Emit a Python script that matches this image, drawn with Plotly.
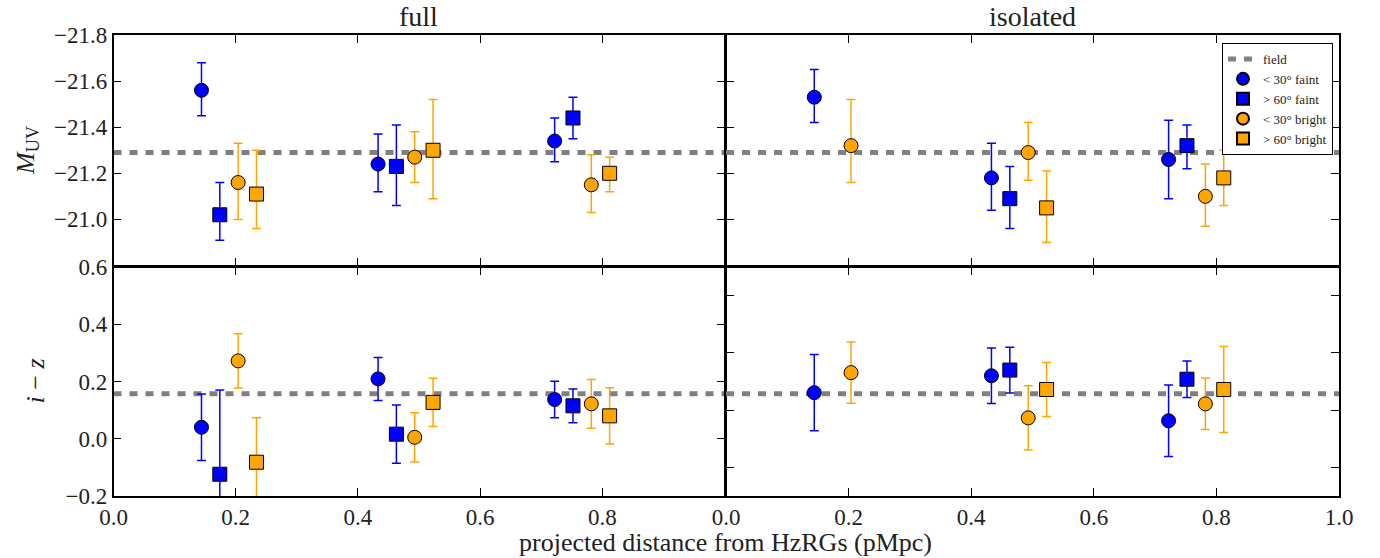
import plotly.graph_objects as go

# ---------------- data ----------------
field_muv = -21.29
field_iz = 0.157

series_names = ["< 30° faint", "> 60° faint", "< 30° bright", "> 60° bright"]
series_colors = ["#0000ff", "#0000ff", "#ffa500", "#ffa500"]
series_symbols = ["circle", "square", "circle", "square"]

# full sample, M_UV
full_x = [[0.144, 0.433, 0.722], [0.174, 0.463, 0.752], [0.204, 0.493, 0.782], [0.234, 0.523, 0.812]]
full_muv = [[-21.56, -21.24, -21.34], [-21.02, -21.23, -21.44], [-21.16, -21.27, -21.15], [-21.11, -21.30, -21.20]]
full_muv_err_bright = [[0.12, 0.13, 0.10], [0.14, 0.18, 0.09], [0.17, 0.11, 0.13], [0.19, 0.22, 0.07]]
full_muv_err_faint = [[0.11, 0.12, 0.09], [0.11, 0.17, 0.09], [0.16, 0.11, 0.12], [0.15, 0.21, 0.08]]
# full sample, i-z
full_iz = [[0.040, 0.209, 0.137], [-0.124, 0.016, 0.115], [0.272, 0.005, 0.122], [-0.082, 0.127, 0.080]]
full_iz_err = [[0.116, 0.075, 0.064], [0.294, 0.102, 0.059], [0.095, 0.086, 0.085], [0.155, 0.084, 0.098]]

# isolated sample, M_UV
iso_x = [[0.144, 0.433, 0.722], [0.463, 0.752], [0.204, 0.493, 0.782], [0.523, 0.812]]
iso_muv = [[-21.53, -21.18, -21.26], [-21.09, -21.32], [-21.32, -21.29, -21.10], [-21.05, -21.18]]
iso_muv_err_bright = [[0.12, 0.15, 0.17], [0.14, 0.09], [0.20, 0.13, 0.14], [0.16, 0.12]]
iso_muv_err_faint = [[0.11, 0.14, 0.17], [0.13, 0.10], [0.16, 0.12, 0.13], [0.15, 0.12]]
# isolated sample, i-z
iso_iz = [[0.161, 0.220, 0.063], [0.240, 0.208], [0.231, 0.073, 0.122], [0.172, 0.172]]
iso_iz_err = [[0.133, 0.097, 0.125], [0.080, 0.064], [0.107, 0.112, 0.090], [0.094, 0.150]]

muv_ticks = [-21.8, -21.6, -21.4, -21.2, -21.0]
iz_ticks = [-0.2, 0.0, 0.2, 0.4, 0.6]
iz_ticks_right = [-0.1, 0.1, 0.3, 0.5]
x_ticks_inner = [0.2, 0.4, 0.6, 0.8]
x_ticks_left = [0.0, 0.2, 0.4, 0.6, 0.8]
x_ticks_right = [0.0, 0.2, 0.4, 0.6, 0.8, 1.0]

# ---------------- figure ----------------
FONT = "Liberation Serif"
fig = go.Figure()

panels = [
    ("x", "y", full_x, full_muv, full_muv_err_faint, full_muv_err_bright, field_muv, True),
    ("x2", "y2", iso_x, iso_muv, iso_muv_err_faint, iso_muv_err_bright, field_muv, False),
    ("x3", "y3", full_x, full_iz, full_iz_err, full_iz_err, field_iz, False),
    ("x4", "y4", iso_x, iso_iz, iso_iz_err, iso_iz_err, field_iz, False),
]

for xa, ya, xs, ys, eplus, eminus, fld, show in panels:
    fig.add_trace(go.Scatter(
        x=[0, 1], y=[fld, fld], mode="lines", name="field",
        line=dict(color="#808080", width=5, dash="8px,8px"),
        xaxis=xa, yaxis=ya, showlegend=show, legendgroup="field", hoverinfo="skip"))

for xa, ya, xs, ys, eplus, eminus, fld, show in panels:
    for i in range(4):
        fig.add_trace(go.Scatter(
            x=xs[i], y=ys[i], mode="markers", name=series_names[i],
            marker=dict(symbol=series_symbols[i], size=14, color=series_colors[i],
                        line=dict(color="black", width=1)),
            error_y=dict(type="data", symmetric=False, array=eplus[i], arrayminus=eminus[i],
                         color=series_colors[i], thickness=1.5, width=4.5),
            xaxis=xa, yaxis=ya, showlegend=show, legendgroup=series_names[i]))

W, H = 1380, 558
xl = [113.5 / W, 724.5 / W]
xr = [726.0 / W, 1339.0 / W]
yt = [1 - 265.5 / H, 1 - 35.0 / H]
yb = [1 - 496.0 / H, 1 - 267.0 / H]

def axis_common():
    return dict(showline=True, linecolor="black", linewidth=1.5, mirror="ticks",
                ticks="inside", ticklen=8, tickwidth=1.2, tickcolor="black",
                showgrid=False, zeroline=False, automargin=False,
                tickfont=dict(family=FONT, size=23, color="#222"))

fig.update_layout(
    width=W, height=H,
    margin=dict(l=0, r=0, t=0, b=0, autoexpand=False),
    paper_bgcolor="white", plot_bgcolor="white",
    xaxis=dict(domain=xl, anchor="y", range=[0, 1], tickvals=x_ticks_inner,
               showticklabels=False, **axis_common()),
    yaxis=dict(domain=yt, anchor="x", range=[-20.8, -21.8], tickvals=muv_ticks,
               tickformat=".1f", **axis_common()),
    xaxis2=dict(domain=xr, anchor="y2", range=[0, 1], tickvals=x_ticks_inner,
                showticklabels=False, **axis_common()),
    yaxis2=dict(domain=yt, anchor="x2", range=[-20.8, -21.8], tickvals=muv_ticks,
                showticklabels=False, **axis_common()),
    xaxis3=dict(domain=xl, anchor="y3", range=[0, 1], tickvals=x_ticks_left,
                tickformat=".1f", **axis_common()),
    yaxis3=dict(domain=yb, anchor="x3", range=[-0.2, 0.6], tickvals=iz_ticks,
                tickformat=".1f", **axis_common()),
    xaxis4=dict(domain=xr, anchor="y4", range=[0, 1], tickvals=x_ticks_right,
                tickformat=".1f", **axis_common()),
    yaxis4=dict(domain=yb, anchor="x4", range=[-0.2, 0.6], tickvals=iz_ticks_right,
                showticklabels=False, **axis_common()),
    legend=dict(x=1333 / W, y=1 - 43 / H, xanchor="right", yanchor="top",
                bgcolor="white", bordercolor="black", borderwidth=1,
                font=dict(family=FONT, size=13, color="#222"),
                tracegroupgap=0, itemsizing="constant"),
    showlegend=True,
)

title_font = dict(family=FONT, size=28, color="#222")
label_font = dict(family=FONT, size=26, color="#222")
fig.add_annotation(text="full", x=0.303, y=0.971, xref="paper", yref="paper",
                   showarrow=False, font=title_font, xanchor="center", yanchor="middle")
fig.add_annotation(text="isolated", x=0.748, y=0.971, xref="paper", yref="paper",
                   showarrow=False, font=title_font, xanchor="center", yanchor="middle")
fig.add_annotation(text="<i>M</i><sub>UV</sub>", x=0.019, y=0.73, xref="paper", yref="paper",
                   showarrow=False, font=label_font, textangle=-90, xanchor="center", yanchor="middle")
fig.add_annotation(text="<i>i</i> − <i>z</i>", x=0.026, y=0.318, xref="paper", yref="paper",
                   showarrow=False, font=label_font, textangle=-90, xanchor="center", yanchor="middle")
fig.add_annotation(text="projected distance from HzRGs (pMpc)", x=0.5254, y=0.027,
                   xref="paper", yref="paper", showarrow=False, font=label_font,
                   xanchor="center", yanchor="middle")

fig.write_html("out.html")
